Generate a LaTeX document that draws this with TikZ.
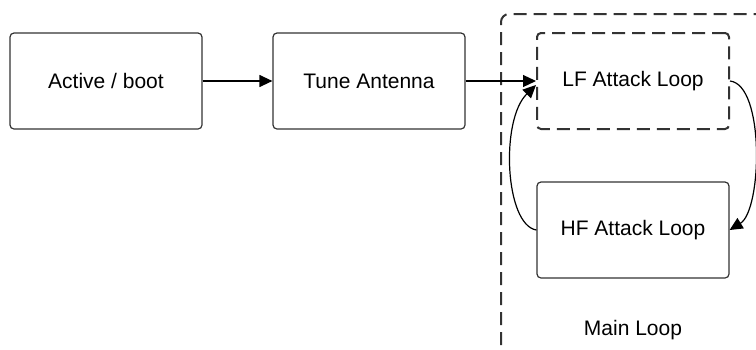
\documentclass[tikz,border=0pt]{standalone}
\usepackage{fontspec}
\setmainfont{Liberation Sans}
\usetikzlibrary{arrows.meta,positioning}

\tikzset{
  stagebox/.style={draw=black!80, line width=0.6pt, rounded corners=2pt,
    minimum width=96pt, minimum height=48pt, font=\fontsize{10.5}{12}\selectfont, inner sep=0pt},
  loopbox/.style={stagebox, dash pattern=on 6.5pt off 3.5pt, line width=1pt},
  flow/.style={-{Triangle[length=6.5pt,width=6pt]}, line width=0.6pt}
}

\begin{document}
\begin{tikzpicture}[x=0.5pt,y=-0.5pt]
  \useasboundingbox (0,0) rectangle (756,349);

  % Outer region, running off the page
  \begin{scope}
    \clip (0,0) rectangle (756,349);
    \draw[black!80, line width=1pt, dash pattern=on 6.5pt off 3.5pt, rounded corners=4pt]
      (501,345) -- (501,14) -- (790,14);
  \end{scope}

  % Stages
  \node[stagebox] (boot) at (106,81) {Active / boot};
  \node[stagebox] (tune) at (369,81) {Tune Antenna};
  \node[loopbox] (lf) at (633,81) {LF Attack Loop};
  \node[stagebox] (hf) at (633,230) {HF Attack Loop};
  \node[font=\fontsize{10.5}{12}\selectfont] (mainlbl) at (633,330) {Main Loop};

  % Connectors
  \draw[flow] (boot) -- (tune);
  \draw[flow] (tune) -- (lf);
  \draw[flow] (hf.west) .. controls (505,225) and (500,120) .. ([yshift=-2pt]lf.west);
  \draw[flow] (lf.east) .. controls (765,85) and (762,210) .. (hf.east);
\end{tikzpicture}
\end{document}
